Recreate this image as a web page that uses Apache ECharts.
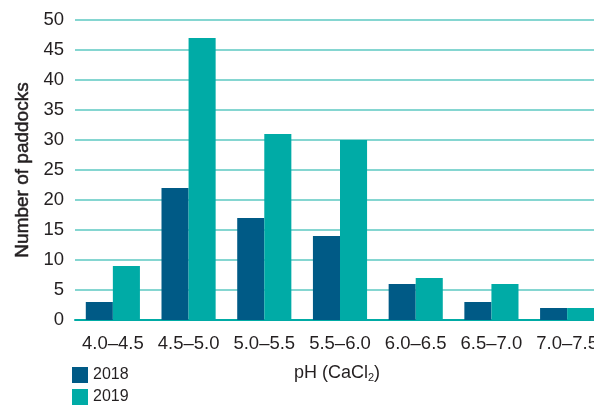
<!DOCTYPE html>
<html><head><meta charset="utf-8">
<script src="https://cdn.jsdelivr.net/npm/echarts@6/dist/echarts.min.js"></script>
<style>html,body{margin:0;padding:0;background:#fff}#c{width:594px;height:405px}</style>
</head><body><div id="c"></div>
<script>
const categories = ['4.0–4.5','4.5–5.0','5.0–5.5','5.5–6.0','6.0–6.5','6.5–7.0','7.0–7.5'];
const values2018 = [3,22,17,14,6,3,2];
const values2019 = [9,47,31,30,7,6,2];
const yTicks = {min:0,max:50,interval:5};
const chart = echarts.init(document.getElementById('c'));
const font = '"Liberation Sans", Arial, Helvetica, sans-serif';
chart.setOption({
  animation:false,
  textStyle:{fontFamily:font},
  grid:{left:75,right:-11,top:20,bottom:85,containLabel:false,outerBoundsMode:'none'},
  legend:{orient:'vertical',left:72,top:367,padding:0,itemWidth:16,itemHeight:16,itemGap:6,
    textStyle:{fontSize:16,color:'#231f20',fontFamily:font},
    data:['2018','2019'],icon:'rect'},
  xAxis:{type:'category',data:categories,
    axisLine:{show:true,lineStyle:{color:'#00aba5',width:2}},
    axisTick:{show:false},
    axisLabel:{fontSize:18.5,color:'#231f20',margin:14,fontFamily:font,interval:0,hideOverlap:false},
    name:'pH (CaCl{s|2})',nameLocation:'middle',nameGap:44,
    nameTextStyle:{fontSize:18,color:'#231f20',fontFamily:font,padding:[0,6,0,0],
      rich:{s:{fontSize:11,color:'#231f20',fontFamily:font,padding:[8,0,0,0]}}}},
  yAxis:{type:'value',min:yTicks.min,max:yTicks.max,interval:yTicks.interval,
    axisLine:{show:false},axisTick:{show:false},
    splitLine:{lineStyle:{color:'#5cc8c2',width:1.5}},
    axisLabel:{fontSize:18.5,color:'#231f20',margin:11,fontFamily:font},
    name:'Number of paddocks',nameLocation:'middle',nameGap:40,nameRotate:90,
    nameTextStyle:{fontSize:19,color:'#231f20',fontFamily:font,textBorderColor:'#231f20',textBorderWidth:0.5}},
  series:[
    {name:'2018',type:'bar',data:values2018,barGap:'0%',barCategoryGap:'28.5%',itemStyle:{color:'#005a86'}},
    {name:'2019',type:'bar',data:values2019,barGap:'0%',barCategoryGap:'28.5%',itemStyle:{color:'#00aba6'}}
  ]
});
</script></body></html>
